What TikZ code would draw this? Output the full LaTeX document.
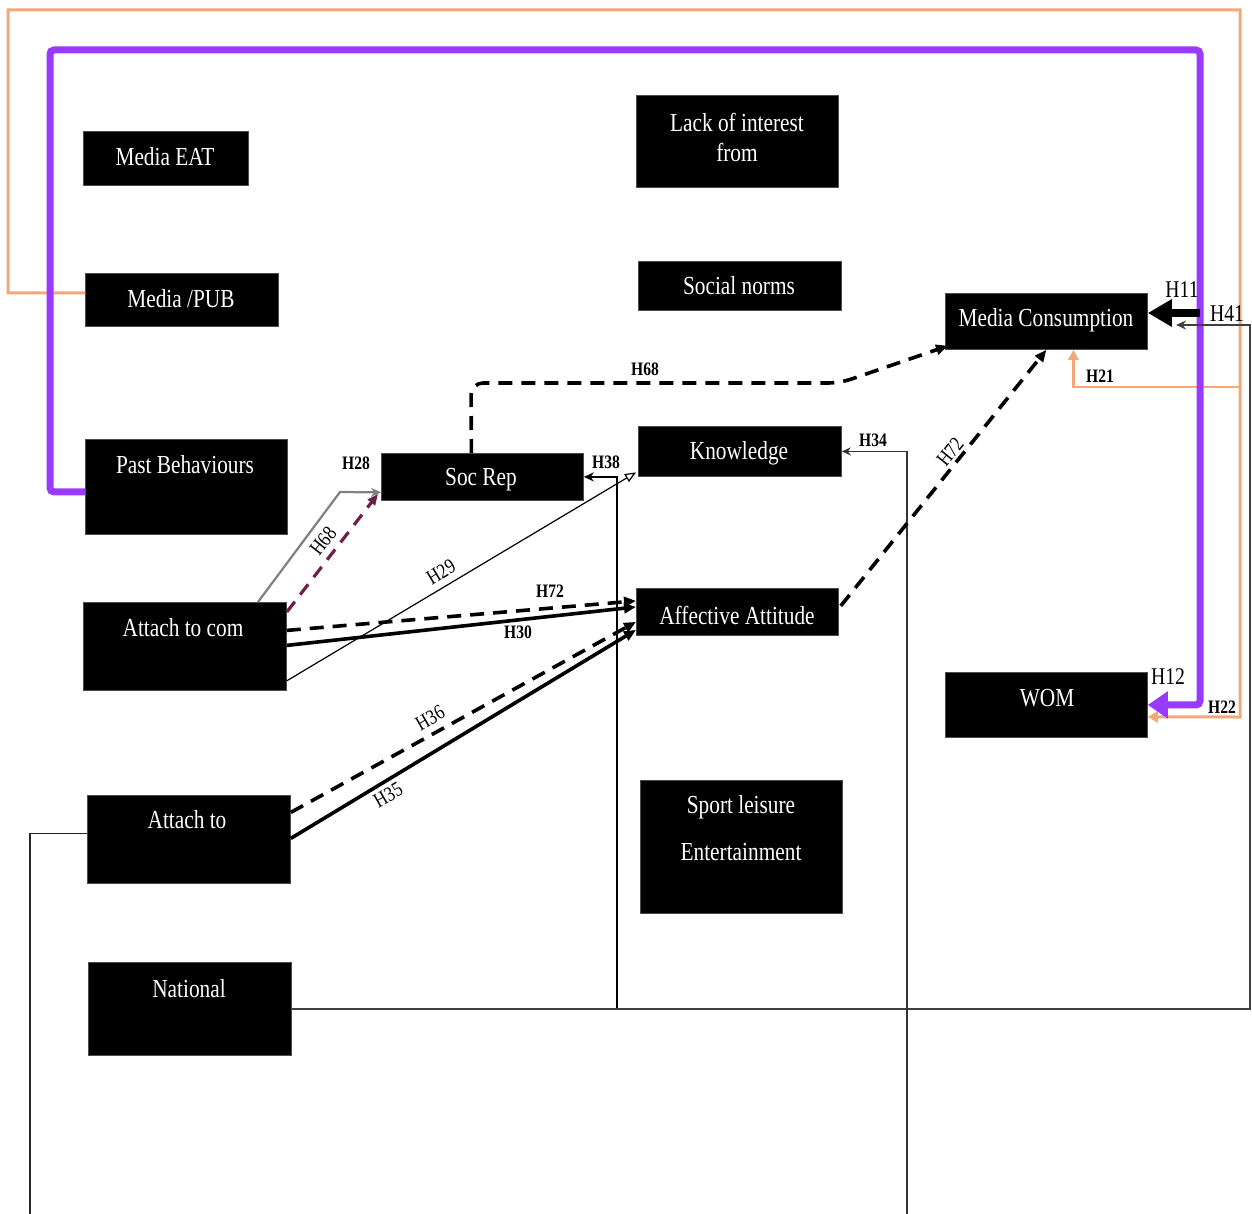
\documentclass[tikz,border=0pt]{standalone}
\usepackage{fontspec}
\setmainfont{Liberation Serif}[FakeStretch=0.82]
\usetikzlibrary{arrows.meta}
\definecolor{purp}{RGB}{155,58,255}
\definecolor{peach}{RGB}{244,168,122}
\definecolor{plum}{RGB}{112,32,72}
\begin{document}
\begin{tikzpicture}[x=1pt,y=-1pt,
  box/.style={fill=black,draw=black!70,line width=0.8pt,inner sep=0pt,anchor=north west},
  txt/.style={text=white,font=\fontsize{26}{28}\selectfont,inner sep=0pt},
  hl/.style={font=\bfseries\fontsize{19}{22}\selectfont,inner sep=1pt},
  hr/.style={font=\fontsize{21}{22}\selectfont,inner sep=0pt},
  hb/.style={font=\fontsize{24}{26}\selectfont,inner sep=1pt},
  dsh/.style={line width=3.6pt,dash pattern=on 14pt off 9pt,-{Triangle[length=12pt,width=10pt]}},
  sol/.style={line width=3.6pt,-{Triangle[length=12pt,width=10pt]}},
  thinarr/.style={line width=1.2pt,-{Triangle[open,length=11pt,width=9pt]}}
]
\useasboundingbox (0,0) rectangle (1252,1214);
\fill[white] (0,0) rectangle (1252,1214);

% ---------- boxes ----------
\node[box,minimum width=165pt,minimum height=54pt] (eat) at (83,131) {};
\node[box,minimum width=202pt,minimum height=92pt] (lack) at (636,95) {};
\node[box,minimum width=203pt,minimum height=49pt] (soc) at (638,261) {};
\node[box,minimum width=193pt,minimum height=53pt] (pub) at (85,273) {};
\node[box,minimum width=202pt,minimum height=56pt] (mc) at (945,293) {};
\node[box,minimum width=202pt,minimum height=95pt] (pb) at (85,439) {};
\node[box,minimum width=202pt,minimum height=47pt] (sr) at (381,453) {};
\node[box,minimum width=203pt,minimum height=50pt] (kn) at (638,426) {};
\node[box,minimum width=203pt,minimum height=88pt] (ac) at (83,602) {};
\node[box,minimum width=202pt,minimum height=47pt] (af) at (636,588) {};
\node[box,minimum width=202pt,minimum height=65pt] (wom) at (945,672) {};
\node[box,minimum width=203pt,minimum height=88pt] (at) at (87,795) {};
\node[box,minimum width=202pt,minimum height=133pt] (sp) at (640,780) {};
\node[box,minimum width=203pt,minimum height=93pt] (nat) at (88,962) {};

% ---------- box texts ----------
\node[txt] (teat) at (165,157) {Media EAT};
\node[txt] (tlack1) at (737,122) {Lack of interest};
\node[txt] (tlack2) at (737,152) {from};
\node[txt] (tsoc) at (739,286) {Social norms};
\node[txt] (tpub) at (181,299) {Media /PUB};
\node[txt] (tmc) at (1046,320) {Media Consumption};
\node[txt] (tpb) at (185,465) {Past Behaviours};
\node[txt] (tsr) at (481,480) {Soc Rep};
\node[txt] (tkn) at (739,453) {Knowledge};
\node[txt] (tac) at (183,628) {Attach to com};
\node[txt] (taf) at (737,615) {Affective Attitude};
\node[txt] (twom) at (1047,698) {WOM};
\node[txt] (tat) at (187,820) {Attach to};
\node[txt] (tsp1) at (741,807) {Sport leisure};
\node[txt] (tsp2) at (741,852) {Entertainment};
\node[txt] (tnat) at (189,989) {National};

% ---------- free-end coordinates ----------
\coordinate (oj) at (1240,387);
\coordinate (p11) at (1200,313);
\coordinate (h41end) at (1176,325);
\coordinate (nj) at (617,1008);
\coordinate (b34) at (907,1214);
\coordinate (b30) at (30,1214);

% ---------- orange loop ----------
\draw[peach,line width=3pt,-{Triangle[length=10pt,width=11pt]}]
  ([yshift=7pt]pub.west) -| (8,10) -| (1240,717) -- ([yshift=-12pt]wom.east);
\draw[peach,line width=2.6pt,-{Triangle[length=10pt,width=10pt]}]
  (oj) -| ([xshift=27pt]mc.south);

% ---------- purple loop ----------
\draw[purp,line width=7pt,rounded corners=4pt,-{Triangle[length=20pt,width=26pt]}]
  ([yshift=-5pt]pb.west) -| (50,50) -| (1200,705) -- (wom.east);

% ---------- H11 ----------
\draw[black,line width=8pt,-{Triangle[length=24pt,width=26pt]}] (p11) -- (mc.east |- p11);

% ---------- National / H41 / H38 ----------
\draw[black!75,line width=2.2pt,-{Stealth[length=10pt,width=9pt]}]
  (nat.east) -| (1250,325) -- (h41end);
\draw[black,line width=2pt,-{Stealth[length=10pt,width=9pt]}] (nj) |- (sr.east);

% ---------- H34 ----------
\draw[black!80,line width=1.6pt,-{Stealth[length=9pt,width=8pt]}] (b34) |- (kn.east);

% ---------- Attach to left line ----------
\draw[black!85,line width=1.6pt] ([yshift=6pt]at.west) -| (b30);

% ---------- H28 / H68 ----------
\draw[gray,line width=2.2pt,-{Stealth[length=10pt,width=9pt]}]
  ([xshift=175pt]ac.north west) -- (340,492) -- ([yshift=-15.5pt]sr.west);
\draw[plum,line width=3.2pt,dash pattern=on 13pt off 9pt,-{Triangle[length=11pt,width=9pt]}]
  ([yshift=-10pt]ac.north east) -- ([xshift=-3pt,yshift=-17pt]sr.west);

% ---------- H29 ----------
\draw[black,thinarr] ([yshift=10pt]ac.south east) -- ([xshift=-2pt,yshift=-21pt]kn.west);

% ---------- H72 / H30 ----------
\draw[dsh] ([yshift=16pt]ac.east) -- ([yshift=11pt]af.west);
\draw[sol] ([yshift=1pt]ac.east) -- ([yshift=5pt]af.west);

% ---------- H36 / H35 ----------
\draw[dsh] ([yshift=27pt]at.east) -- ([yshift=-10pt]af.west);
\draw[sol] ([yshift=1pt]at.east) -- ([yshift=-18pt]af.west);

% ---------- H72 (to Media Consumption) ----------
\draw[dsh] ([xshift=2pt,yshift=6pt]af.east) -- (mc.south);

% ---------- H68 top ----------
\draw[dsh,rounded corners=12pt] ([xshift=-11pt]sr.north) -- (471,383) -- (840,383) -- ([xshift=3pt,yshift=4pt]mc.south west);

% ---------- labels ----------
\node[hl] (l28) at (356,463) {H28};
\node[hr,rotate=52] (l68a) at (323,541) {H68};
\node[hr,rotate=31] (l29) at (441,572) {H29};
\node[hl] (l72a) at (550,591) {H72};
\node[hl] (l30) at (518,632) {H30};
\node[hr,rotate=30] (l36) at (430,718) {H36};
\node[hr,rotate=30] (l35) at (388,795) {H35};
\node[hl] (l38) at (606,462) {H38};
\node[hl] (l68b) at (645,369) {H68};
\node[hl] (l34) at (873,440) {H34};
\node[hr,rotate=51] (l72b) at (950,452) {H72};
\node[hb] (l11) at (1182,290) {H11};
\node[hb] (l41) at (1227,314) {H41};
\node[hl] (l21) at (1100,376) {H21};
\node[hb] (l12) at (1168,677) {H12};
\node[hl] (l22) at (1222,707) {H22};
\end{tikzpicture}
\end{document}
